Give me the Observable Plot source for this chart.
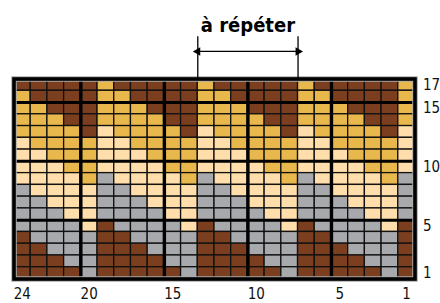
<!DOCTYPE html>
<html><head><meta charset="utf-8">
<script src="https://cdn.jsdelivr.net/npm/d3@7"></script>
<script src="https://cdn.jsdelivr.net/npm/@observablehq/plot@0.6"></script>
<style>
html,body{margin:0;padding:0;background:#fff}
#chart svg text{font-family:'Liberation Sans Narrow','DejaVu Sans Condensed','DejaVu Sans',sans-serif;font-stretch:condensed}
</style>
</head><body><div id="chart"></div>
<script>
// Knitting chart rows, from row 17 (top) down to row 1; each string lists columns 24 -> 1
const gridRows = [
  "BBBB BYBBB BBYBB BBBYB BBBBY", // 17
  "YBBB BYYBB BBYYB BBBYY BBBBY", // 16
  "YYBB BYYYB BBYYY BBBYY YBBBY", // 15
  "YYYB BYYYY BBYYY YBBYY YYBBY", // 14
  "YYYY BLYYY YBLYY YYBLY YYYBL", // 13
  "LYYY YLLYY YYLLY YYYLL YYYYL", // 12
  "LLYY YLLLY YYLLL YYYLL LYYYL", // 11
  "LLLY YLLLL YYLLL LYYLL LLYYL", // 10
  "LLLL YGLLL LYGLL LLYGL LLLYG", // 9
  "GLLL LGGLL LLGGL LLLGG LLLLG", // 8
  "GGLL LGGGL LLGGG LLLGG GLLLG", // 7
  "GGGL LGGGG LLGGG GLLGG GGLLG", // 6
  "GGGG LBGGG GLBGG GGLBG GGGLB", // 5
  "BGGG GBBGG GGBBG GGGBB GGGGB", // 4
  "BBGG GBBBG GGBBB GGGBB BGGGB", // 3
  "BBBG GBBBB GGBBB BGGBB BBGGB", // 2
  "BBBB GBBBB BGBBB BBGBB BBBGB"  // 1
];
const colTicks = [24, 20, 15, 10, 5, 1];
const rowTicks = [1, 5, 10, 15, 17];
const colorKeys = ["B", "Y", "L", "G"];
const colorValues = ["#7b3f1f", "#e9b84c", "#ffdeab", "#a7a9ac"];
const repeatCols = [13, 8];   // first and last column of the repeat
const title = "à répéter";

const nCols = 24, nRows = 17;
const cells = [];
gridRows.forEach((s, i) => {
  const row = nRows - i;
  [...s.replace(/ /g, "")].forEach((k, j) => cells.push({row, col: nCols - j, k}));
});
const blocks = [5.5, 10.5, 15.5, 20.5];
const repeatEdges = [repeatCols[0] + 0.5, repeatCols[1] - 0.5];
const bracketTop = 21.1, arrowY = 19.84, titleY = 22.0;

const chart = Plot.plot({
  width: 440, height: 303,
  marginLeft: 13.5, marginRight: 25.5, marginTop: 78.5, marginBottom: 24.5,
  style: {fontSize: "15px", color: "#111", background: "#fff"},
  x: {type: "linear", domain: [nCols + 0.5, 0.5], axis: null},
  y: {type: "linear", domain: [0.5, nRows + 0.5], axis: null},
  color: {domain: colorKeys, range: colorValues},
  marks: [
    Plot.rect(cells, {
      x1: d => d.col + 0.5, x2: d => d.col - 0.5,
      y1: d => d.row - 0.5, y2: d => d.row + 0.5,
      fill: "k", stroke: "#111", strokeWidth: 1.3
    }),
    Plot.ruleX(blocks.filter(b => b < nCols), {y1: 0.5, y2: nRows + 0.5, stroke: "#000", strokeWidth: 3.4}),
    Plot.ruleY(blocks.filter(b => b < nRows), {x1: nCols + 0.5, x2: 0.5, stroke: "#000", strokeWidth: 3.0}),
    Plot.frame({stroke: "#aaa", strokeWidth: 5.5}),
    Plot.frame({stroke: "#000", strokeWidth: 3.6}),
    Plot.axisX({anchor: "bottom", ticks: colTicks, tickSize: 0, tickPadding: 9, label: null, fontSize: 15, tickFormat: d => d}),
    Plot.axisY({anchor: "right", ticks: rowTicks, tickSize: 0, tickPadding: 8, label: null, fontSize: 15, tickFormat: d => d}),
    // repeat bracket
    Plot.ruleX(repeatEdges, {y1: nRows + 0.5, y2: bracketTop, stroke: "#000", strokeWidth: 1.3}),
    Plot.ruleY([arrowY], {x1: repeatEdges[0], x2: repeatEdges[1], stroke: "#000", strokeWidth: 1.2}),
    Plot.dot([{x: repeatEdges[0], r: -90, dx: 3.5}, {x: repeatEdges[1], r: 90, dx: -3.5}], {
      x: "x", y: arrowY, symbol: "triangle", r: 3.2, fill: "#000", stroke: null,
      rotate: "r"
    }),
    Plot.text([title], {
      x: (repeatEdges[0] + repeatEdges[1]) / 2, y: titleY, text: d => d,
      fontSize: 20, fontWeight: "bold", fill: "#000", textAnchor: "middle"
    })
  ]
});
document.getElementById("chart").append(chart);
</script>
</body></html>
